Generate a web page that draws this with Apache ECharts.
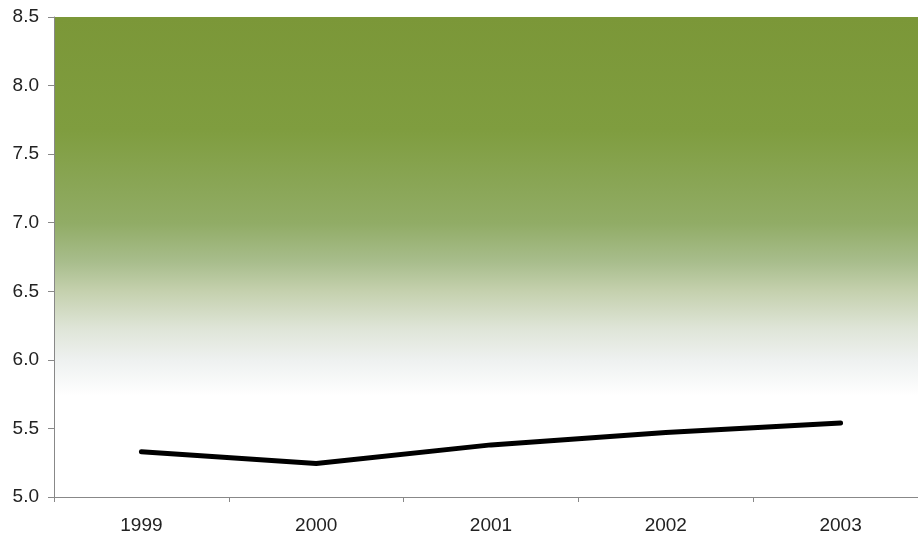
<!DOCTYPE html>
<html>
<head>
<meta charset="utf-8">
<script src="https://cdn.jsdelivr.net/npm/echarts@6/dist/echarts.min.js"></script>
<style>html,body{margin:0;padding:0;background:#fff;overflow:hidden;width:918px;height:538px;}#c{width:928px;height:538px;}</style>
</head>
<body>
<div id="c"></div>
<script>
var categories = ['1999', '2000', '2001', '2002', '2003'];
var values = [5.33, 5.245, 5.38, 5.47, 5.54];
var yTicks = [5.0, 5.5, 6.0, 6.5, 7.0, 7.5, 8.0, 8.5];

var chart = echarts.init(document.getElementById('c'));
chart.setOption({
  animation: false,
  grid: {
    left: 54, right: 0, top: 17, bottom: 41,
    show: true, borderWidth: 0,
    backgroundColor: {
      type: 'linear', x: 0, y: 0, x2: 0, y2: 1,
      colorStops: [
        { offset: 0, color: '#7b9738' },
        { offset: 0.235, color: '#7f9d3f' },
        { offset: 0.43, color: '#91ac66' },
        { offset: 0.51, color: '#a8bd8c' },
        { offset: 0.57, color: '#c4d0ad' },
        { offset: 0.65, color: '#dfe5d8' },
        { offset: 0.715, color: '#eef1f0' },
        { offset: 0.79, color: '#ffffff' },
        { offset: 1, color: '#ffffff' }
      ]
    }
  },
  xAxis: {
    type: 'category',
    data: categories,
    boundaryGap: true,
    axisLine: { lineStyle: { color: '#888', width: 1 } },
    axisTick: { show: true, length: 5, lineStyle: { color: '#888' } },
    axisLabel: { color: '#222', fontSize: 19, fontFamily: 'Liberation Sans, Arial', margin: 19 },
    splitLine: { show: false }
  },
  yAxis: {
    type: 'value',
    min: yTicks[0], max: yTicks[yTicks.length - 1], interval: 0.5,
    axisLine: { show: true, lineStyle: { color: '#888', width: 1 } },
    axisTick: { show: true, length: 6, lineStyle: { color: '#888' } },
    axisLabel: { color: '#222', fontSize: 19, fontFamily: 'Liberation Sans, Arial', margin: 15,
      formatter: function (v) { return v.toFixed(1); } },
    splitLine: { show: false }
  },
  series: [{
    type: 'line',
    data: values,
    symbol: 'none',
    lineStyle: { color: '#000', width: 5, cap: 'round', join: 'round' }
  }]
});
</script>
</body>
</html>
